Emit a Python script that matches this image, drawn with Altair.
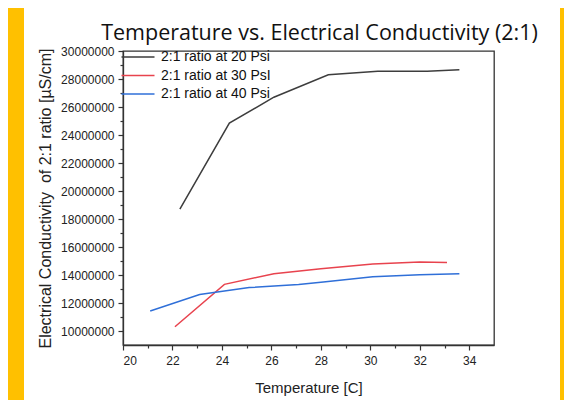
import altair as alt
import pandas as pd

# ---- data ----
temp_20 = [22.3, 24.3, 26.1, 28.3, 30.3, 32.3, 33.6]
ec_20 = [18700000, 24850000, 26700000, 28300000, 28550000, 28560000, 28660000]
temp_30 = [22.1, 24.1, 26.1, 28.0, 30.1, 32.0, 33.1]
ec_30 = [10300000, 13330000, 14090000, 14450000, 14780000, 14920000, 14900000]
temp_40 = [21.1, 23.1, 25.1, 27.1, 28.1, 30.1, 32.0, 33.6]
ec_40 = [11430000, 12600000, 13100000, 13320000, 13500000, 13880000, 14020000, 14090000]

series_names = ["2:1 ratio at 20 Psi", "2:1 ratio at 30 PsI", "2:1 ratio at 40 Psi"]
series_colors = ["#3d3d3d", "#e8434e", "#2f6fd8"]

x_ticks = list(range(20, 35))
y_ticks = list(range(10000000, 30000001, 1000000))

rows = []
for name, ts, ecs in zip(series_names, [temp_20, temp_30, temp_40], [ec_20, ec_30, ec_40]):
    for i, (t, e) in enumerate(zip(ts, ecs)):
        rows.append({"series": name, "temp": t, "ec": e, "order": i})
df = pd.DataFrame(rows)

W, H = 371, 294
PAD = {"left": 115, "top": 43, "right": 70, "bottom": 55}
FONT = "Liberation Sans, Arial, sans-serif"
AX = "#333333"

lines = alt.Chart(df).mark_line(strokeWidth=1.5).encode(
    x=alt.X(
        "temp:Q",
        scale=alt.Scale(domain=[20, 35], nice=False, zero=False),
        axis=alt.Axis(
            values=x_ticks,
            labelExpr="datum.value % 2 == 0 ? datum.label : ''",
            tickSize={"condition": {"test": "datum.value % 2 == 0", "value": 5}, "value": 3},
            title="Temperature [C]",
            titlePadding=14,
            labelPadding=5,
            labelFontSize=12,
            titleFontSize=15,
        ),
    ),
    y=alt.Y(
        "ec:Q",
        scale=alt.Scale(domain=[9000000, 30000000], nice=False, zero=False),
        axis=alt.Axis(
            values=y_ticks,
            format="d",
            labelExpr="datum.value % 2000000 == 0 ? datum.label : ''",
            tickSize={"condition": {"test": "datum.value % 2000000 == 0", "value": 5}, "value": 3},
            title="Electrical Conductivity \u00a0of 2:1 ratio [µS/cm]",
            titlePadding=7,
            labelPadding=4,
            labelFontSize=12,
            titleFontSize=16,
        ),
    ),
    color=alt.Color(
        "series:N",
        scale=alt.Scale(domain=series_names, range=series_colors),
        sort=series_names,
        legend=alt.Legend(
            orient="none",
            legendX=8,
            legendY=-1,
            title=None,
            symbolType="M-3,0H3",
            symbolSize=121,
            symbolStrokeWidth=1.6,
            labelFont=FONT,
            labelFontSize=14,
            labelColor="#111111",
            labelOffset=16,
            padding=0,
            rowPadding=4.5,
            labelExpr="datum.label == '2:1 ratio at 20 Psi' ? '\u00a0' + datum.label : datum.label",
        ),
    ),
    order="order:Q",
)

strip_left = alt.Chart(alt.Data(values=[{}])).mark_rect(color="#FFC000").encode(
    x=alt.value(-115), x2=alt.value(-99), y=alt.value(-43), y2=alt.value(H + 55)
)
strip_right = alt.Chart(alt.Data(values=[{}])).mark_rect(color="#FFC000").encode(
    x=alt.value(437), x2=alt.value(W + 70), y=alt.value(-43), y2=alt.value(H + 55)
)

chart = (
    alt.layer(strip_left, strip_right, lines)
    .properties(
        width=W,
        height=H,
        padding=PAD,
        autosize=alt.AutoSizeParams(type="none"),
        background="white",
        title=alt.TitleParams(
            "Temperature vs. Electrical Conductivity (2:1)",
            font="Open Sans",
            fontSize=21.5,
            fontWeight="normal",
            color="#111111",
            anchor="middle",
            frame="group",
            baseline="alphabetic",
            dx=11,
            offset=-53,
        ),
    )
    .configure_view(stroke=AX, strokeWidth=1.3)
    .configure_axis(
        grid=False,
        domainColor=AX,
        domainWidth=1.3,
        tickColor=AX,
        tickWidth=1.2,
        labelFont=FONT,
        titleFont=FONT,
        labelColor="#222222",
        titleColor="#222222",
        titleFontWeight="normal",
        zindex=1,
    )
)

chart.save("out.html", embed_options={"renderer": "svg", "actions": False})
